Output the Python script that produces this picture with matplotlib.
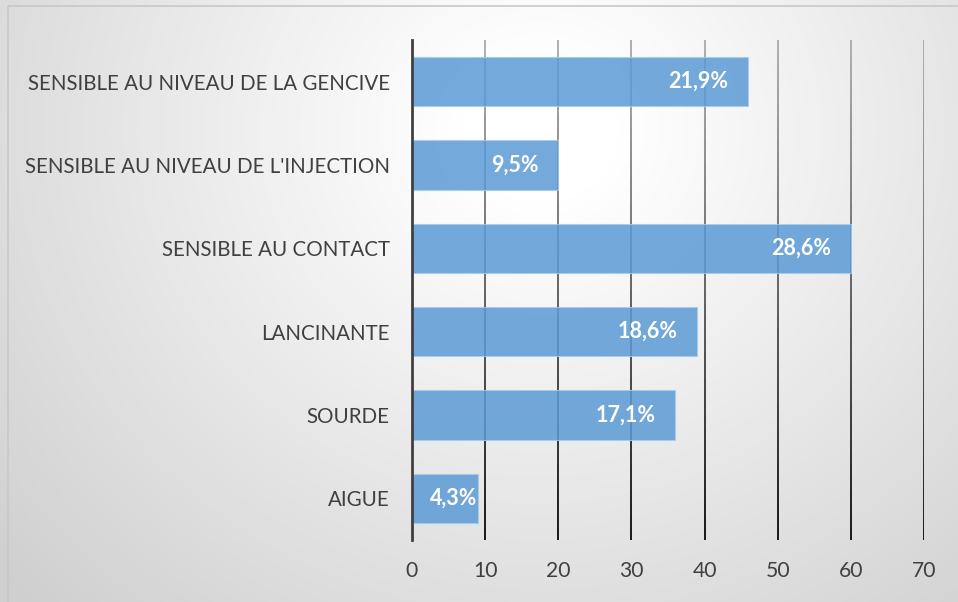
import numpy as np
import matplotlib
matplotlib.use("Agg")
import matplotlib.pyplot as plt
from matplotlib.collections import LineCollection
from matplotlib.patches import Rectangle

categories = ["AIGUE", "SOURDE", "LANCINANTE", "SENSIBLE AU CONTACT",
              "SENSIBLE AU NIVEAU DE L'INJECTION", "SENSIBLE AU NIVEAU DE LA GENCIVE"]
counts = [9, 36, 39, 60, 20, 46]
pct_labels = ["4,3%", "17,1%", "18,6%", "28,6%", "9,5%", "21,9%"]
x_ticks = [0, 10, 20, 30, 40, 50, 60, 70]

plt.rcParams["font.family"] = ["Lato", "DejaVu Sans"]
W, H = 958, 602
fig = plt.figure(figsize=(W / 100, H / 100), dpi=100)

# background: soft radial gradient, white near top centre
bg = fig.add_axes([0, 0, 1, 1], zorder=-10)
yy, xx = np.mgrid[0:H, 0:W]
r = np.sqrt(((xx - 540) / 520.0) ** 2 + ((yy - 130) / 480.0) ** 2)
t = np.clip((r - 0.15) / 1.25, 0, 1)
shade = 1.0 - t * (48 / 255)
bg.imshow(np.dstack([shade] * 3), extent=[0, W, H, 0], aspect="auto")
bg.add_patch(Rectangle((8, 6), W + 20, H + 20, fill=False, ec="#c8c8c8", lw=1.2))
bg.set_xlim(0, W)
bg.set_ylim(H, 0)
bg.axis("off")

ax = fig.add_axes([412 / W, 1 - 540 / H, (924 - 412) / W, 500 / H])
ax.set_facecolor("none")
ypos = np.arange(len(categories))
bars = ax.barh(ypos, counts, height=0.59, color="#5b9bd5", alpha=0.85,
               edgecolor="#a9cbea", linewidth=0.8, zorder=3)

ax.set_xlim(0, 70)
ax.set_ylim(-0.5, len(categories) - 0.5)
ax.set_xticks(x_ticks)
ax.set_yticks(ypos)
ax.set_yticklabels(categories)
ax.tick_params(axis="y", length=0, pad=16, labelsize=14.8, labelcolor="#404040")
ax.tick_params(axis="x", length=0, pad=15, labelsize=15.2, labelcolor="#404040")
for s in ["top", "right", "bottom"]:
    ax.spines[s].set_visible(False)
ax.spines["left"].set_color("#404040")
ax.spines["left"].set_linewidth(2.0)
ax.spines["left"].set_zorder(5)

# vertical gridlines fading from grey at top to black at bottom
n = 40
ys = np.linspace(-0.5, len(categories) - 0.5, n + 1)
segs, cols = [], []
for xv in x_ticks[1:]:
    for i in range(n):
        segs.append([(xv, ys[i]), (xv, ys[i + 1])])
        g = 0.03 + 0.65 * (i / n)
        cols.append((g, g, g))
ax.add_collection(LineCollection(segs, colors=cols, linewidths=1.3, zorder=2))

# value labels inside bar ends
fig.canvas.draw()
renderer = fig.canvas.get_renderer()
px_per_unit = (924 - 412) / 70.0
for yv, v, lab in zip(ypos, counts, pct_labels):
    txt = ax.annotate(lab, (v, yv), xytext=(0, 0), textcoords="offset pixels",
                      ha="right", va="center", color="white", fontsize=15.5,
                      fontweight="bold", zorder=6)
    tw = txt.get_window_extent(renderer).width
    pad = min(20, max(0, v * px_per_unit - tw - 18))
    txt.set_position((-pad, 0))

fig.savefig("out.png", dpi=100)
